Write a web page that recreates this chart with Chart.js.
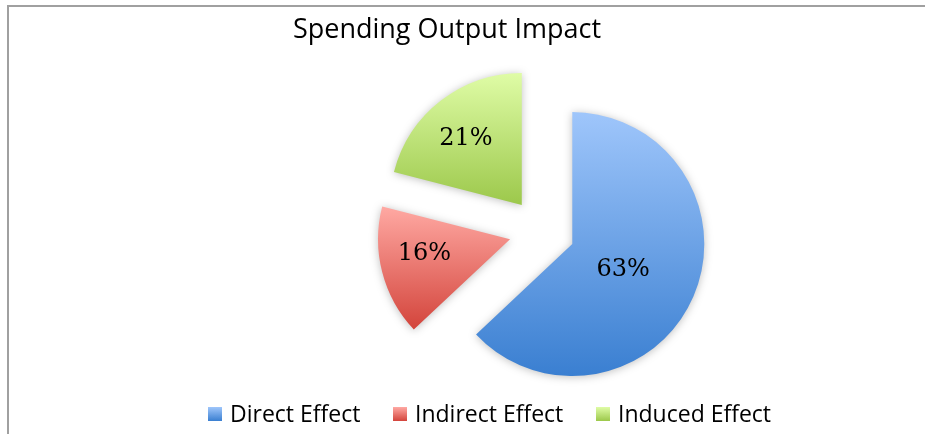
<!DOCTYPE html>
<html>
<head>
<meta charset="utf-8">
<title>Spending Output Impact</title>
<script src="https://cdn.jsdelivr.net/npm/chart.js@4.4.0/dist/chart.umd.min.js"></script>
<style>
  html, body { margin: 0; padding: 0; background: #fff; }
  #wrap { position: relative; width: 925px; height: 434px; overflow: hidden; }
  #frame {
    position: absolute; left: 7px; top: 5px; right: -10px; bottom: -10px;
    border-left: 2px solid #a0a0a0; border-top: 2px solid #a0a0a0;
  }
  #my-chart { position: absolute; left: 0; top: 0; }
  #title {
    position: absolute; left: 0; top: 14px; width: 894px; text-align: center;
    font: 27px/27px "Open Sans", sans-serif; color: #000;
  }
  .lg-item {
    position: absolute; top: 402px; white-space: nowrap;
    font: 23px/23px "Open Sans", sans-serif; color: #000;
  }
  .lg-box { position: absolute; top: 5px; left: 0; width: 14px; height: 14px; }
  .lg-text { position: absolute; left: 22px; top: 0; }
</style>
</head>
<body>
<div id="wrap">
  <div id="frame"></div>
  <canvas id="my-chart" width="925" height="434"></canvas>
  <div id="title"></div>
  <div id="legend"></div>
</div>
<script>
const chartTitle = 'Spending Output Impact';
const categories = ['Direct Effect', 'Indirect Effect', 'Induced Effect'];
const shares = [63, 16, 21];
const shareLabels = ['63%', '16%', '21%'];

// farby (horna / dolna cast gradientu)
const topColors = ['#9fc6fb', '#ffa9a3', '#dffca6'];
const bottomColors = ['#3a7fd1', '#d3443b', '#9cc84b'];

const RADIUS = 132;
const EXPLODE = 33;
const labelDist = [0.42, 0.67, 0.69];
const labelShiftY = [1, -10, 3];
const legendLeft = [208, 393, 596];

document.getElementById('title').innerText = chartTitle;

// legenda ako html
const legend = document.getElementById('legend');
categories.forEach((name, i) => {
    const item = document.createElement('div');
    item.className = 'lg-item';
    item.style.left = legendLeft[i] + 'px';
    const box = document.createElement('span');
    box.className = 'lg-box';
    box.style.background = 'linear-gradient(' + topColors[i] + ', ' + bottomColors[i] + ')';
    const txt = document.createElement('span');
    txt.className = 'lg-text';
    txt.innerText = name;
    item.appendChild(box);
    item.appendChild(txt);
    legend.appendChild(item);
});

function sliceAngles(i) {
    const total = shares.reduce((a, b) => a + b, 0);
    let start = -Math.PI / 2;
    for (let k = 0; k < i; k++) start += shares[k] / total * Math.PI * 2;
    const end = start + shares[i] / total * Math.PI * 2;
    return [start, end];
}

function sliceGradient(context) {
    const chart = context.chart;
    const area = chart.chartArea;
    const i = context.dataIndex;
    if (!area) return topColors[i];
    const cy = (area.top + area.bottom) / 2;
    const [start, end] = sliceAngles(i);
    let top = cy, bottom = cy;
    for (let s = 0; s <= 60; s++) {
        const a = start + (end - start) * s / 60;
        const y = cy + Math.sin(a) * RADIUS;
        top = Math.min(top, y);
        bottom = Math.max(bottom, y);
    }
    const g = chart.ctx.createLinearGradient(0, top, 0, bottom);
    g.addColorStop(0, topColors[i]);
    g.addColorStop(1, bottomColors[i]);
    return g;
}

// vykreslenie odsunutych vysekov + tien
const explodePlugin = {
    id: 'explode',
    beforeDatasetDraw(chart, args) {
        const ctx = chart.ctx;
        args.meta.data.forEach(arc => {
            const mid = (arc.startAngle + arc.endAngle) / 2;
            ctx.save();
            ctx.translate(Math.cos(mid) * EXPLODE, Math.sin(mid) * EXPLODE);
            ctx.shadowColor = 'rgba(0, 0, 0, 0.25)';
            ctx.shadowBlur = 8;
            ctx.shadowOffsetX = 0;
            ctx.shadowOffsetY = 1;
            arc.draw(ctx);
            ctx.restore();
        });
        return false;
    },
    afterDatasetsDraw(chart) {
        const ctx = chart.ctx;
        const meta = chart.getDatasetMeta(0);
        ctx.save();
        ctx.font = '24px "DejaVu Serif", serif';
        ctx.fillStyle = '#000';
        ctx.textAlign = 'center';
        ctx.textBaseline = 'alphabetic';
        meta.data.forEach((arc, i) => {
            const mid = (arc.startAngle + arc.endAngle) / 2;
            const d = EXPLODE + labelDist[i] * arc.outerRadius;
            const x = arc.x + Math.cos(mid) * d;
            const y = arc.y + Math.sin(mid) * d + labelShiftY[i];
            ctx.fillText(shareLabels[i], x, y + 9);
        });
        ctx.restore();
    }
};

const ctx = document.getElementById('my-chart');

const config = {
    type: 'pie',
    data: {
        labels: categories,
        datasets: [{
            data: shares,
            backgroundColor: sliceGradient,
            borderWidth: 0,
            hoverOffset: 0
        }]
    },
    options: {
        responsive: false,
        animation: false,
        events: [],
        devicePixelRatio: 1,
        radius: RADIUS,
        layout: {
            padding: { left: 159, right: 0, top: 38, bottom: 10 }
        },
        plugins: {
            legend: { display: false },
            title: { display: false },
            tooltip: { enabled: false }
        }
    },
    plugins: [explodePlugin]
};

const chart = new Chart(ctx, config);
</script>
</body>
</html>
